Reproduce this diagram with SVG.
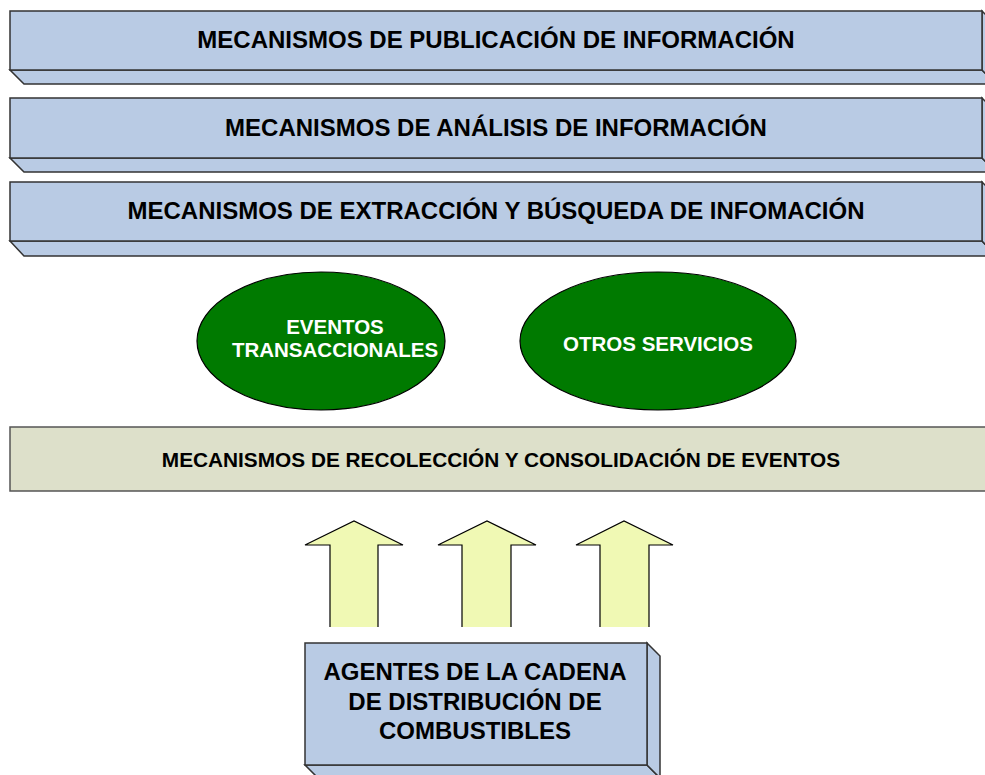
<svg xmlns="http://www.w3.org/2000/svg" width="985" height="775" viewBox="0 0 985 775">
<style>
.face{fill:#b9cbe4;stroke:#333;stroke-width:1.5;stroke-linejoin:miter}
.t{font-family:"Liberation Sans",Arial,sans-serif;font-weight:bold;text-anchor:middle;fill:#000}
.w{fill:#fff}
.ell{fill:#007a00;stroke:#000;stroke-width:1.2}
.arr{fill:#f0f9b4;stroke:#000;stroke-width:1.2}
</style>
<rect width="985" height="775" fill="#fff"/>
<g id="bar-publicacion">
<polygon class="face" points="10,70 982,70 996,84 24,84"/>
<polygon class="face" points="982,11 996,25 996,84 982,70"/>
<rect class="face" x="10" y="11" width="972" height="59"/>
<text class="t" x="496" y="48" font-size="24">MECANISMOS DE PUBLICACIÓN DE INFORMACIÓN</text>
</g>
<g id="bar-analisis">
<polygon class="face" points="10,158 982,158 996,172 24,172"/>
<polygon class="face" points="982,98 996,112 996,172 982,158"/>
<rect class="face" x="10" y="98" width="972" height="60"/>
<text class="t" x="496" y="136" font-size="24">MECANISMOS DE ANÁLISIS DE INFORMACIÓN</text>
</g>
<g id="bar-extraccion">
<polygon class="face" points="10,241 982,241 996,256 24,256"/>
<polygon class="face" points="982,182 996,196 996,256 982,241"/>
<rect class="face" x="10" y="182" width="972" height="59"/>
<text class="t" x="496" y="219" font-size="24">MECANISMOS DE EXTRACCIÓN Y BÚSQUEDA DE INFOMACIÓN</text>
</g>
<g id="eventos">
<ellipse class="ell" cx="321" cy="341" rx="124" ry="69"/>
<text class="t w" x="335" y="334" font-size="20.5">EVENTOS</text>
<text class="t w" x="335" y="357" font-size="20.5">TRANSACCIONALES</text>
</g>
<g id="otros">
<ellipse class="ell" cx="658" cy="341" rx="138" ry="69"/>
<text class="t w" x="658" y="351" font-size="20.5">OTROS SERVICIOS</text>
</g>
<g id="recoleccion">
<rect x="10" y="427" width="985" height="64" fill="#dde0ca" stroke="#555" stroke-width="1.5"/>
<text class="t" x="501" y="467" font-size="20.8">MECANISMOS DE RECOLECCIÓN Y CONSOLIDACIÓN DE EVENTOS</text>
</g>
<g id="connectors">
<path class="arr" d="M330,627 V545 H305 L354,521 L403,545 H378 V627"/>
<path class="arr" d="M462,627 V545 H438 L487,521 L536,545 H511 V627"/>
<path class="arr" d="M600,627 V545 H576 L624,521 L673,545 H649 V627"/>
</g>
<g id="agentes">
<polygon class="face" points="305,765 647,765 660,778 318,778"/>
<polygon class="face" points="647,643 660,656 660,778 647,765"/>
<rect class="face" x="305" y="643" width="342" height="122"/>
<text class="t" x="475" y="680" font-size="24">AGENTES DE LA CADENA</text>
<text class="t" x="475" y="710" font-size="24">DE DISTRIBUCIÓN DE</text>
<text class="t" x="475" y="739" font-size="24">COMBUSTIBLES</text>
</g>
</svg>
